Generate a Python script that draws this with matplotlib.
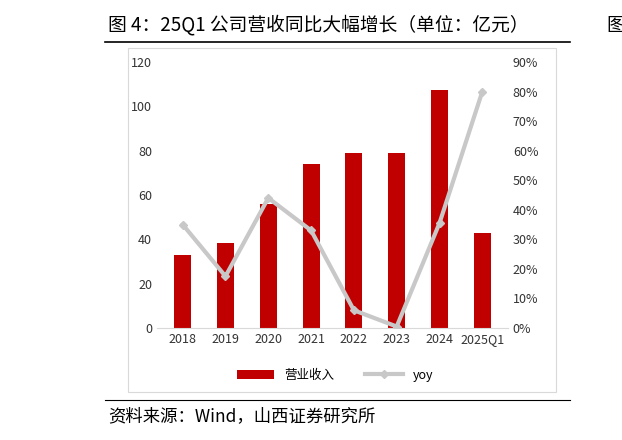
import matplotlib
matplotlib.use("Agg")
import matplotlib.pyplot as plt
from matplotlib.lines import Line2D
from matplotlib.patches import Rectangle
plt.rcParams['font.family'] = ['Noto Sans CJK SC']

categories = ["2018","2019","2020","2021","2022","2023","2024","2025Q1"]
revenue = [33, 38.5, 56, 74, 79, 79, 107.5, 43]
yoy = [35, 17.5, 44, 33, 6, 0.5, 35.5, 80]

fig = plt.figure(figsize=(6.22,4.40), dpi=100)
W, H = 622, 440
def fx(x): return x/W
def fy(y): return 1-y/H

fig.text(fx(108), fy(25), "图 4：25Q1 公司营收同比大幅增长（单位：亿元）", fontsize=13.5, va='center', ha='left',
         fontfamily='Noto Sans CJK SC')
fig.text(fx(606), fy(25), "图", fontsize=13.5, va='center', ha='left')
fig.add_artist(Line2D([fx(105), fx(570)], [fy(42), fy(42)], color='black', lw=1.2))
fig.add_artist(Rectangle((fx(128), fy(392)), fx(556-128), (392-48)/H, fill=False, ec='#d9d9d9', lw=0.8))
fig.add_artist(Line2D([fx(105), fx(570)], [fy(400), fy(400)], color='black', lw=0.8))
fig.text(fx(108), fy(416), "资料来源：Wind，山西证券研究所", fontsize=12.5, va='center', ha='left')

ax = fig.add_axes([fx(157), fy(328), fx(508-157), (328-62)/H])
x = range(len(categories))
ax.bar(x, revenue, width=0.4, color='#c00000', label='营业收入')
ax.set_ylim(0, 120)
ax.set_yticks(range(0, 121, 20))
ax.set_xlim(-0.6, len(categories)-0.4)
ax.set_xticks(list(x))
ax.set_xticklabels(categories)
for s in ['top','right','left']:
    ax.spines[s].set_visible(False)
ax.spines['bottom'].set_color('#d9d9d9')
ax.tick_params(axis='both', length=0, labelsize=9, colors='#333333')
ax2 = ax.twinx()
ax2.plot(list(x), yoy, color='#c8c8c8', lw=3, marker='D', markersize=4, label='yoy')
ax2.set_ylim(0, 90)
ax2.set_yticks(range(0, 91, 10))
ax2.set_yticklabels([f"{v}%" for v in range(0, 91, 10)])
for s in ['top','right','left','bottom']:
    ax2.spines[s].set_visible(False)
ax2.tick_params(axis='y', length=0, labelsize=9, colors='#333333')

h1, l1 = ax.get_legend_handles_labels()
h2, l2 = ax2.get_legend_handles_labels()
fig.legend(h1+h2, l1+l2, loc='center', bbox_to_anchor=(fx(335), fy(375)), ncol=2, frameon=False,
           fontsize=9, handlelength=3, columnspacing=2.5)
fig.savefig("out.png", dpi=100)
